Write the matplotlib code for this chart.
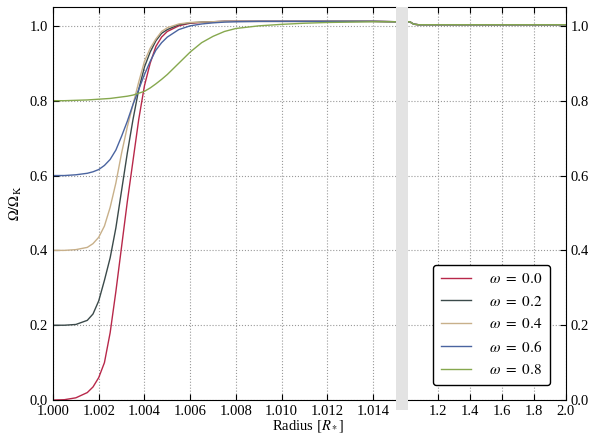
import matplotlib
matplotlib.use('Agg')
import matplotlib.pyplot as plt
from matplotlib.patches import Rectangle
from matplotlib.ticker import FormatStrFormatter

plt.rcParams['font.family'] = ['Liberation Serif', 'DejaVu Serif']
plt.rcParams['mathtext.fontset'] = 'stix'
plt.rcParams['font.size'] = 10.5

# radius grid near the stellar surface (left panel)
r_in = [1.000, 1.0005, 1.001, 1.0015, 1.00175, 1.002, 1.00225, 1.0025, 1.00275,
        1.003, 1.00325, 1.0035, 1.00375, 1.004, 1.00425, 1.0045, 1.00475, 1.005,
        1.0055, 1.006, 1.0065, 1.007, 1.0075, 1.008, 1.009, 1.010, 1.011, 1.012,
        1.013, 1.014, 1.015]

w00 = [0.0, 0.001, 0.006, 0.02, 0.035, 0.06, 0.10, 0.18, 0.29, 0.41, 0.53, 0.64,
       0.75, 0.84, 0.90, 0.945, 0.97, 0.985, 1.0, 1.007, 1.009, 1.011, 1.012, 1.012,
       1.012, 1.012, 1.012, 1.012, 1.012, 1.012, 1.011]
w02 = [0.2, 0.2, 0.202, 0.213, 0.23, 0.265, 0.32, 0.38, 0.46, 0.56, 0.66, 0.75,
       0.83, 0.89, 0.93, 0.96, 0.98, 0.99, 1.003, 1.008, 1.010, 1.011, 1.012, 1.012,
       1.012, 1.012, 1.012, 1.012, 1.012, 1.012, 1.011]
w04 = [0.4, 0.4, 0.402, 0.408, 0.418, 0.435, 0.465, 0.515, 0.58, 0.66, 0.73, 0.79,
       0.85, 0.905, 0.94, 0.965, 0.985, 0.995, 1.005, 1.009, 1.010, 1.011, 1.012, 1.012,
       1.012, 1.012, 1.012, 1.012, 1.012, 1.012, 1.011]
w06 = [0.6, 0.6, 0.602, 0.606, 0.61, 0.616, 0.627, 0.643, 0.668, 0.705, 0.745, 0.79,
       0.83, 0.87, 0.905, 0.935, 0.955, 0.97, 0.99, 1.0, 1.005, 1.008, 1.010, 1.011,
       1.012, 1.012, 1.012, 1.012, 1.012, 1.012, 1.011]
w08 = [0.8, 0.8, 0.801, 0.802, 0.803, 0.804, 0.805, 0.806, 0.808, 0.81, 0.812, 0.815,
       0.82, 0.825, 0.834, 0.845, 0.857, 0.87, 0.90, 0.93, 0.955, 0.972, 0.985, 0.993,
       1.0, 1.004, 1.007, 1.009, 1.010, 1.011, 1.011]

# outer region (right panel), all models almost identical
r_out = [1.015, 1.02, 1.03, 1.04, 1.05, 1.06, 1.08, 1.1, 1.2, 1.4, 1.6, 1.8, 2.0]
w_out = [1.011, 1.011, 1.010, 1.007, 1.005, 1.004, 1.003, 1.003, 1.003, 1.003, 1.003, 1.003, 1.003]

omegas = ['0.0', '0.2', '0.4', '0.6', '0.8']
curves = [w00, w02, w04, w06, w08]
colors = ['#b8284a', '#3b4a4a', '#c8b08a', '#4a64a0', '#86a84e']

fig = plt.figure(figsize=(6, 4.46), dpi=100)
ax1 = fig.add_axes([0.0883, 0.103, 0.5717, 0.881])
ax2 = fig.add_axes([0.680, 0.103, 0.2633, 0.881])

# grey band marking the broken axis
fig.patches.append(Rectangle((0.66, 0.081), 0.02, 0.903, transform=fig.transFigure,
                             facecolor='#e3e3e3', edgecolor='none', zorder=0))

for w, om, c in zip(curves, omegas, colors):
    ax1.plot(r_in, w, color=c, lw=1.0)
    ax2.plot(r_out, w_out, color=c, lw=1.0, label=r'$\omega\ =\ %s$' % om)

ax1.set_xlim(1.000, 1.015)
ax2.set_xlim(1.015, 2.0)
for ax in (ax1, ax2):
    ax.set_ylim(0, 1.05)
    ax.set_yticks([0.0, 0.2, 0.4, 0.6, 0.8, 1.0])
    ax.yaxis.set_major_formatter(FormatStrFormatter('%.1f'))
    ax.grid(True, linestyle=':', color='#999999', lw=0.8)
    ax.tick_params(direction='in', top=True, length=4)

ax1.set_xticks([1.000, 1.002, 1.004, 1.006, 1.008, 1.010, 1.012, 1.014])
ax1.xaxis.set_major_formatter(FormatStrFormatter('%.3f'))
ax1.spines['right'].set_visible(False)
ax1.tick_params(right=False)

ax2.set_xticks([1.2, 1.4, 1.6, 1.8, 2.0])
ax2.xaxis.set_major_formatter(FormatStrFormatter('%.1f'))
ax2.spines['left'].set_visible(False)
ax2.yaxis.tick_right()
ax2.tick_params(left=False, direction='in')

ax1.set_ylabel(r'$\Omega/\Omega_{\rm K}$')
fig.text(0.513, 0.025, r'Radius $[R_*]$', ha='center', va='bottom')

leg = ax2.legend(loc='lower right', bbox_to_anchor=(0.95, 0.02), fancybox=True,
                 framealpha=1.0, edgecolor='black', fontsize=11, labelspacing=0.55,
                 handlelength=2.0, handletextpad=1.2, borderpad=0.5)
leg.get_frame().set_linewidth(1.0)

fig.savefig('out.png', dpi=100)
